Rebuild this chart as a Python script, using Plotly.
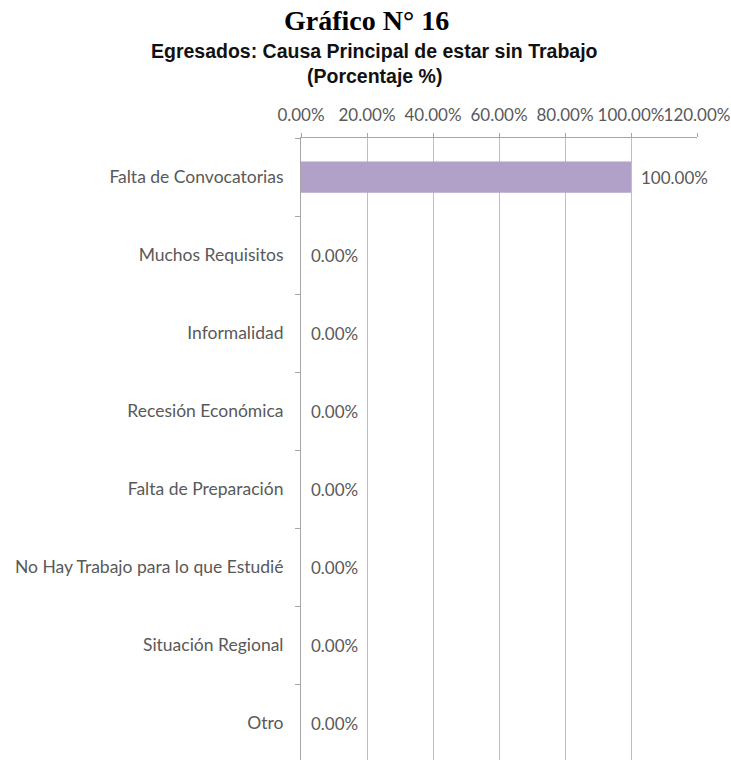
import plotly.graph_objects as go

causas = ['Falta de Convocatorias', 'Muchos Requisitos', 'Informalidad',
          'Recesión Económica', 'Falta de Preparación',
          'No Hay Trabajo para lo que Estudié', 'Situación Regional', 'Otro']
porcentajes = [1.0, 0.0, 0.0, 0.0, 0.0, 0.0, 0.0, 0.0]
etiquetas = [f'{v * 100:.2f}%' for v in porcentajes]

gris = '#595959'
font_ejes = 'Lato, Open Sans, sans-serif'

fig = go.Figure(go.Bar(
    y=causas,
    x=porcentajes,
    orientation='h',
    width=0.4,
    marker=dict(color='#b1a0c7', line=dict(width=0)),
    hoverinfo='skip',
))

# etiquetas de datos a la derecha de cada barra
for c, v, t in zip(causas, porcentajes, etiquetas):
    fig.add_annotation(x=v, y=c, text=t, showarrow=False, xanchor='left',
                       xshift=8, font=dict(family=font_ejes, size=17, color=gris))

# titulos
fig.add_annotation(x=0, y=1, xref='paper', yref='paper', xanchor='center', yanchor='middle',
                   xshift=65, yshift=118, showarrow=False, text='<b>Gráfico N° 16</b>',
                   font=dict(family='Liberation Serif, Times New Roman, serif', size=28, color='#000000'))
fig.add_annotation(x=0, y=1, xref='paper', yref='paper', xanchor='center', yanchor='middle',
                   xshift=73, yshift=87, showarrow=False,
                   text='<b>Egresados: Causa Principal de estar sin Trabajo</b>',
                   font=dict(family='Liberation Sans, Arial, sans-serif', size=19.5, color='#111111'))
fig.add_annotation(x=0, y=1, xref='paper', yref='paper', xanchor='center', yanchor='middle',
                   xshift=73, yshift=62, showarrow=False,
                   text='<b>(Porcentaje %)</b>',
                   font=dict(family='Liberation Sans, Arial, sans-serif', size=19.5, color='#111111'))

fig.update_layout(
    width=731, height=760,
    margin=dict(l=301, r=34, t=138, b=0),
    paper_bgcolor='white', plot_bgcolor='white',
    showlegend=False,
    xaxis=dict(
        side='top', range=[0, 1.2], dtick=0.2, tickformat='.2%',
        showgrid=True, gridcolor='#bfbfbf', gridwidth=1,
        showline=True, linecolor='#a6a6a6', linewidth=1,
        ticks='outside', ticklen=4, tickcolor='#a6a6a6', tickangle=0,
        ticklabelstandoff=5,
        tickfont=dict(family=font_ejes, size=17, color=gris),
        zeroline=False, fixedrange=True, automargin=False,
    ),
    yaxis=dict(
        categoryorder='array', categoryarray=causas,
        range=[7.47, -0.5],
        showline=True, linecolor='#a6a6a6', linewidth=1,
        ticks='outside', ticklen=5, tickcolor='#a6a6a6', tickson='boundaries',
        ticklabelstandoff=13,
        tickfont=dict(family=font_ejes, size=17.5, color=gris),
        showgrid=False, zeroline=False, fixedrange=True, automargin=False,
    ),
)

# quitar el margen por defecto del body para que el grafico ocupe toda la ventana
fig.write_html('out.html', config={'displayModeBar': False},
               post_script="document.body.style.margin='0';")
